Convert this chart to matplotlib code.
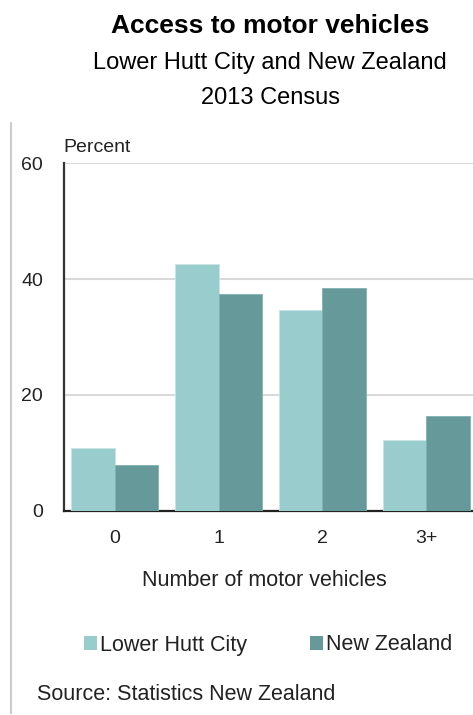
import matplotlib
matplotlib.use("Agg")
import matplotlib.pyplot as plt
import numpy as np
from matplotlib.lines import Line2D
from matplotlib.patches import Patch

plt.rcParams['font.family'] = ['Liberation Sans', 'DejaVu Sans']

# data
categories = ["0", "1", "2", "3+"]
lower_hutt = [10.8, 42.6, 34.6, 12.1]
new_zealand = [7.9, 37.4, 38.4, 16.3]
series_names = ["Lower Hutt City", "New Zealand"]
y_ticks = [0, 20, 40, 60]

light_teal = "#99cccc"
dark_teal = "#669999"
text_col = "#222222"

fig = plt.figure(figsize=(4.73, 7.15), dpi=100)
ax = fig.add_axes([64 / 473, 1 - 510.5 / 715, 1 - 64 / 473, (510.5 - 163.3) / 715])

x = np.arange(len(categories))
w = 0.42
ax.bar(x - w / 2, lower_hutt, w, color=light_teal, edgecolor="#c8e4e4", linewidth=0.6, zorder=3)
ax.bar(x + w / 2, new_zealand, w, color=dark_teal, edgecolor="#7fb0b0", linewidth=0.6, zorder=3)

ax.set_xlim(-0.49, 3.45)
ax.set_ylim(0, 60)
ax.set_yticks(y_ticks)
ax.set_xticks(x)
ax.set_xticklabels(categories)
ax.yaxis.grid(True, color="#d9d9d9", linewidth=1.5, zorder=0)
ax.set_axisbelow(True)
ax.tick_params(axis="y", length=0, pad=15, labelsize=14, colors=text_col)
ax.tick_params(axis="x", length=0, pad=14, labelsize=14, colors=text_col)

for s in ["top", "right"]:
    ax.spines[s].set_visible(False)
ax.spines["left"].set_color("#333333")
ax.spines["left"].set_linewidth(1.6)
ax.spines["bottom"].set_color("#222222")
ax.spines["bottom"].set_linewidth(1.6)

# titles
fig.text(270 / 473, 1 - 26 / 715, "Access to motor vehicles", ha="center", va="center",
         fontsize=19, fontweight="bold", color="black")
fig.text(270 / 473, 1 - 63 / 715, "Lower Hutt City and New Zealand", ha="center", va="center",
         fontsize=17, color="black")
fig.text(270 / 473, 1 - 98 / 715, "2013 Census", ha="center", va="center",
         fontsize=17, color="black")

fig.text(63 / 473, 1 - 148 / 715, "Percent", ha="left", va="center", fontsize=14, color=text_col)
fig.text(264 / 473, 1 - 580 / 715, "Number of motor vehicles", ha="center", va="center",
         fontsize=15.5, color=text_col)

handles = [Patch(facecolor=light_teal, edgecolor="none"),
           Patch(facecolor=dark_teal, edgecolor="none")]
fig.legend(handles, series_names, loc="center", bbox_to_anchor=(268 / 473, 1 - 645 / 715),
           ncol=2, frameon=False, fontsize=15.5, handlelength=0.6, handleheight=0.6,
           handletextpad=0.15, columnspacing=2.9, labelcolor=text_col)

fig.text(37 / 473, 1 - 695 / 715, "Source: Statistics New Zealand", ha="left", va="center",
         fontsize=15.5, color=text_col)

# thin border line on the left
fig.add_artist(Line2D([11 / 473, 11 / 473], [1 - 123 / 715, 1 - 713 / 715],
                      transform=fig.transFigure, color="#cccccc", linewidth=1.5))

fig.savefig("out.png", dpi=100)
